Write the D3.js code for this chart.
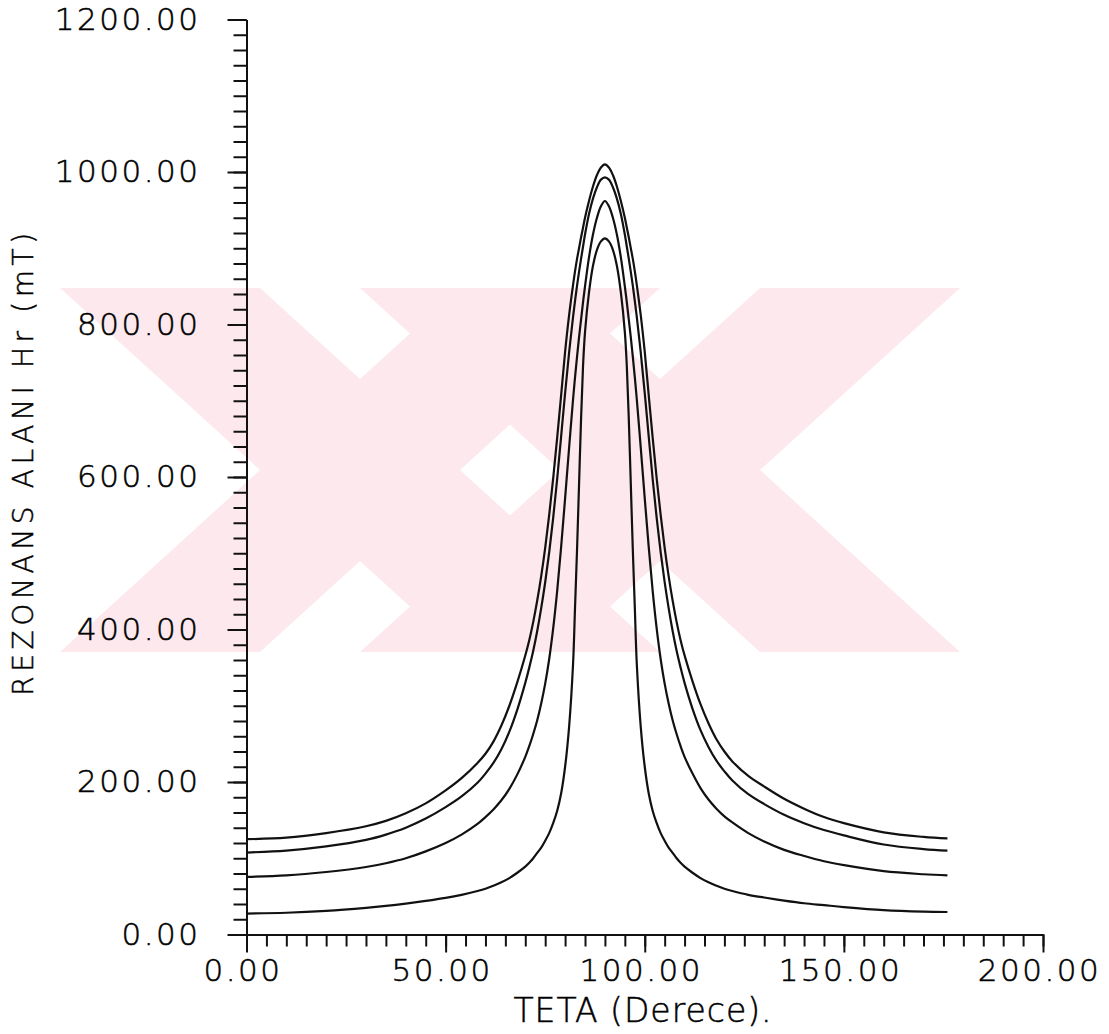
<!DOCTYPE html>
<html>
<head>
<meta charset="utf-8">
<script src="https://cdn.jsdelivr.net/npm/d3@7"></script>
<style>
  body { margin: 0; background: #fff; }
  svg { display: block; }
  text { font-family: "DejaVu Sans", sans-serif; fill: #000; }
</style>
</head>
<body>
<div id="chart"></div>
<script>
// angle (degrees) at which each curve was read
var teta = [0, 10, 20, 30, 35, 40, 45, 50, 54, 58, 60, 62, 64, 66, 68, 70, 71, 72, 73, 74, 75, 76, 77, 78, 79, 80, 81, 82, 82.5, 83, 83.5, 84, 84.5, 85, 86, 87, 88, 89, 90,
            91, 92, 93, 94, 95, 95.5, 96, 96.5, 97, 97.5, 98, 99, 100, 101, 102, 103, 104, 105, 106, 107, 108, 109, 110, 112, 114, 116, 118, 120, 122, 126, 130, 135, 140, 145, 150, 160, 170, 176];

// resonance field Hr (mT), four curves, top to bottom
var hr1 = [125, 127, 133, 142, 149, 159, 172, 189, 205, 225, 237, 253, 274, 300, 331, 366, 386, 410, 438, 470, 507, 550, 598, 651, 707, 764, 812, 852, 870, 886, 900, 914, 927, 940, 962, 981, 996, 1006, 1010,
           1006, 996, 981, 962, 940, 927, 914, 900, 886, 870, 852, 812, 764, 707, 651, 598, 550, 507, 470, 438, 410, 386, 366, 332, 302, 277, 256, 240, 227, 208, 194, 178, 165, 154, 146, 134, 128, 126];
var hr2 = [107.5, 110, 115.5, 124, 131, 140, 152, 167, 181, 199, 211, 225, 243, 266, 295, 330, 350, 372, 398, 428, 462, 501, 546, 597, 653, 710, 763, 810, 831, 851, 869, 886, 902, 918, 945, 965, 980, 990, 993,
           990, 980, 965, 945, 918, 902, 886, 869, 851, 831, 810, 763, 710, 653, 597, 546, 501, 462, 428, 398, 372, 350, 330, 296, 268, 246, 228, 214, 202, 184, 171, 157, 146, 137, 130, 118, 112, 110];
var hr3 = [75.5, 77.5, 82, 88.5, 93.5, 100, 109, 120, 131, 145, 154, 164, 176, 191, 210, 233, 247, 263, 281, 303, 329, 361, 401, 450, 508, 572, 638, 702, 731, 758, 783, 806, 829, 850, 888, 918, 940, 955, 962,
           955, 940, 918, 888, 850, 829, 806, 783, 758, 731, 702, 638, 572, 508, 450, 401, 361, 329, 303, 281, 263, 247, 233, 211, 192, 177, 165, 155, 147, 133, 122, 111, 103, 96, 91, 83, 79, 77.5];
var hr4 = [27.5, 28.5, 31, 35, 37.5, 40.5, 44, 48, 52, 57, 60, 64, 68.5, 74, 81, 89, 94, 100, 107, 114, 123, 133, 146, 162, 185, 220, 272, 355, 430, 505, 590, 675, 745, 790, 842, 877, 898, 909, 913,
           909, 898, 877, 842, 790, 745, 675, 590, 505, 430, 355, 272, 220, 185, 162, 146, 133, 123, 114, 107, 100, 94, 89, 81, 74, 68.5, 64, 60, 57, 52, 48.5, 44.5, 41, 38.5, 36, 32, 30, 29.5];

var xMajor = [0, 50, 100, 150, 200];
var yMajor = [0, 200, 400, 600, 800, 1000, 1200];

window.onload = function() {

    var width = 1109, height = 1034;

    var svg = d3.select("#chart")
        .append("svg")
        .attr("width", width)
        .attr("height", height);

    var x = d3.scaleLinear().domain([0, 200]).range([246.5, 1043]);
    var y = d3.scaleLinear().domain([0, 1200]).range([934.5, 19.5]);

    var fmt = d3.format(".2f");

    // faint pink scanner watermark behind the plot: two crossed pairs of bands
    var wm = svg.append("g").attr("fill", "#fce8ed");
    var bands = [
        [[60, 288], [260, 288], [660, 652], [460, 652]],
        [[460, 288], [660, 288], [260, 652], [60, 652]],
        [[360, 288], [560, 288], [960, 652], [760, 652]],
        [[760, 288], [960, 288], [560, 652], [360, 652]]
    ];
    bands.forEach(function(p) {
        wm.append("polygon").attr("points", p.join(" "));
    });

    // minor ticks first, no labels
    svg.append("g")
        .attr("transform", "translate(0," + y(0) + ")")
        .call(d3.axisBottom(x).tickValues(d3.range(0, 201, 5)).tickSize(12).tickSizeOuter(0).tickFormat(""));
    svg.append("g")
        .attr("transform", "translate(" + x(0) + ",0)")
        .call(d3.axisLeft(y).tickValues(d3.range(0, 1201, 20)).tickSize(13).tickSizeOuter(0).tickFormat(""));

    // major ticks with labels
    var xAxis = svg.append("g")
        .attr("transform", "translate(0," + y(0) + ")")
        .call(d3.axisBottom(x).tickValues(xMajor).tickSize(18).tickSizeOuter(0).tickPadding(6).tickFormat(fmt));
    svg.append("g")
        .attr("transform", "translate(" + x(0) + ",0)")
        .call(d3.axisLeft(y).tickValues(yMajor).tickSize(19).tickSizeOuter(0).tickPadding(27).tickFormat(fmt));

    svg.selectAll(".domain, .tick line").attr("stroke", "#111").attr("stroke-width", 2);
    svg.selectAll(".tick text")
        .attr("fill", "#000")
        .attr("stroke", "#000")
        .attr("stroke-width", 0.5)
        .style("font-family", "'DejaVu Sans', sans-serif")
        .style("font-weight", "200")
        .style("font-size", "31px")
        .style("letter-spacing", "2.5px");
    xAxis.selectAll(".tick text").attr("dx", "-4");

    // axis titles
    svg.append("text")
        .attr("x", 643)
        .attr("y", 1022)
        .attr("text-anchor", "middle")
        .attr("stroke", "#000")
        .attr("stroke-width", 0.5)
        .style("font-weight", "200")
        .style("font-size", "33px")
        .style("letter-spacing", "1px")
        .text("TETA (Derece).");

    svg.append("text")
        .attr("transform", "translate(33,462) rotate(-90)")
        .attr("text-anchor", "middle")
        .attr("stroke", "#000")
        .attr("stroke-width", 0.5)
        .style("font-weight", "200")
        .style("font-size", "28px")
        .style("letter-spacing", "4.6px")
        .text("REZONANS ALANI Hr (mT)");

    // curves
    var line = d3.line()
        .x(function(d) { return x(d[0]); })
        .y(function(d) { return y(d[1]); })
        .curve(d3.curveCatmullRom.alpha(0.5));

    [hr1, hr2, hr3, hr4].forEach(function(s) {
        svg.append("path")
            .datum(teta.map(function(t, i) { return [t, s[i]]; }))
            .attr("fill", "none")
            .attr("stroke", "#111")
            .attr("stroke-width", 2.2)
            .attr("d", line);
    });
};
</script>
</body>
</html>
